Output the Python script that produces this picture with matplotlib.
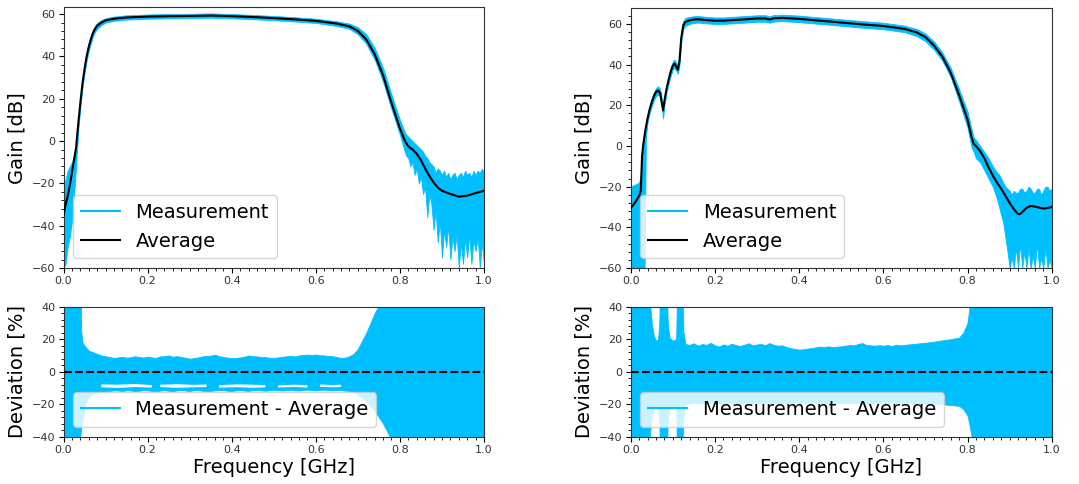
import matplotlib
matplotlib.use("Agg")
import matplotlib.pyplot as plt
from matplotlib.ticker import MultipleLocator

nan = float("nan")

# ---------------- data ----------------
# Left gain panel: average curve
avg_f_L = [0, 0.005, 0.01, 0.015, 0.02, 0.025, 0.03, 0.035, 0.04, 0.045, 0.05, 0.055, 0.06,
           0.065, 0.07, 0.075, 0.08, 0.09, 0.1, 0.12, 0.15, 0.2, 0.25, 0.3, 0.35, 0.4, 0.45,
           0.5, 0.55, 0.6, 0.65, 0.68, 0.7, 0.72, 0.74, 0.76, 0.78, 0.8, 0.81, 0.815, 0.82,
           0.83, 0.84, 0.85, 0.86, 0.87, 0.88, 0.89, 0.9, 0.92, 0.94, 0.96, 0.98, 1.0]
avg_L = [-35, -30, -26, -21, -15, -9, -3, 8, 18, 27, 34, 40, 44.5,
         48, 51, 53, 54.5, 56, 57, 57.8, 58.4, 58.8, 59, 59.1, 59.3, 59, 58.6,
         58.1, 57.5, 56.8, 55.5, 54.2, 52, 48, 41, 31, 18, 6, 1, -1, -2.5,
         -4, -6, -9, -13, -16.5, -19.5, -22, -23.5, -25, -26.3, -25.8, -24.6, -23.5]

# Left gain panel: envelope of all measurements
meas_f_L = [0, 0.005, 0.01, 0.015, 0.02, 0.025, 0.03, 0.035, 0.04, 0.045, 0.05, 0.055, 0.06,
            0.065, 0.07, 0.075, 0.08, 0.09, 0.1, 0.12, 0.15, 0.2, 0.25, 0.3, 0.35, 0.4, 0.45,
            0.5, 0.55, 0.6, 0.65, 0.68, 0.7, 0.72, 0.74, 0.76, 0.78, 0.8, 0.81, 0.815, 0.82,
            0.825, 0.83, 0.835, 0.84, 0.845, 0.85, 0.855, 0.86, 0.865, 0.87, 0.875, 0.88,
            0.885, 0.89, 0.895, 0.9, 0.905, 0.91, 0.915, 0.92, 0.925, 0.93, 0.935, 0.94,
            0.945, 0.95, 0.955, 0.96, 0.965, 0.97, 0.975, 0.98, 0.985, 0.99, 0.995, 1.0]
meas_hi_L = [-22, -18, -14, -12, -10, -7, -2, 10, 20, 29, 36, 42, 46.5,
             50, 52.5, 54.5, 55.8, 57.2, 58, 58.8, 59.4, 59.8, 60, 60.1, 60.3, 60, 59.6,
             59.1, 58.5, 57.8, 56.6, 55.5, 53.8, 50.5, 44, 34.5, 22, 10, 5, 3, 2,
             1, 0, -1, -2, -3, -4, -5, -7, -8, -10, -11, -12,
             -15, -13, -14, -16, -14, -17, -15, -18, -16, -15, -18, -16,
             -15, -17, -14, -16, -15, -17, -14, -16, -14, -15, -13, -15]
meas_lo_L = [-60, -58, -50, -45, -38, -25, -12, 5, 16, 25, 32, 38, 42.5,
             46, 49.5, 51.5, 53, 54.8, 56, 56.8, 57.4, 57.8, 58, 58.1, 58.3, 58, 57.6,
             57.1, 56.5, 55.8, 54.4, 53, 50.5, 46, 38.5, 28, 15, 3, -4, -7, -8,
             -12, -10, -16, -13, -20, -17, -25, -22, -36, -25, -30, -42,
             -33, -48, -38, -55, -42, -50, -40, -56, -45, -52, -44, -60,
             -48, -58, -46, -55, -44, -58, -47, -52, -45, -60, -48, -58]

# Right gain panel: average curve
avg_f_R = [0, 0.01, 0.02, 0.024, 0.027, 0.03, 0.035, 0.04, 0.045, 0.05, 0.055, 0.06, 0.065,
           0.07, 0.074, 0.077, 0.08, 0.085, 0.09, 0.095, 0.1, 0.104, 0.108, 0.112, 0.116,
           0.12, 0.125, 0.13, 0.14, 0.15, 0.16, 0.18, 0.2, 0.22, 0.25, 0.28, 0.3, 0.32,
           0.33, 0.34, 0.36, 0.4, 0.45, 0.5, 0.55, 0.6, 0.65, 0.68, 0.7, 0.72, 0.74, 0.76,
           0.78, 0.8, 0.81, 0.815, 0.82, 0.83, 0.84, 0.85, 0.86, 0.87, 0.88, 0.89, 0.9,
           0.91, 0.92, 0.925, 0.93, 0.94, 0.95, 0.96, 0.97, 0.98, 0.99, 1.0]
avg_R = [-30.5, -28, -24.5, -22, -5, 1, 8, 13.5, 18, 21.5, 24.5, 26.5, 27.3,
         26, 21, 17.5, 22, 28, 32.5, 36.5, 39.5, 40.5, 39, 37.5, 42,
         53, 59.5, 61, 61.8, 62.2, 62.3, 61.9, 61.6, 61.6, 62, 62.4, 62.7, 62.7,
         62.2, 62.8, 63, 62.5, 61.6, 60.7, 59.8, 59, 57.6, 55.8, 53.5, 49.5, 44, 36,
         25, 13, 4, 1, 0, -2.5, -6, -10.5, -14.5, -18, -21, -24.5, -28,
         -31, -33.5, -33.5, -32.5, -30.5, -29.5, -29.8, -30.3, -30.8, -30.5, -30]

# Right gain panel: envelope of all measurements
meas_f_R = [0, 0.01, 0.02, 0.024, 0.027, 0.03, 0.033, 0.036, 0.04, 0.045, 0.05, 0.055,
            0.06, 0.065, 0.07, 0.074, 0.077, 0.08, 0.085, 0.09, 0.095, 0.1, 0.104, 0.108,
            0.112, 0.116, 0.12, 0.125, 0.13, 0.14, 0.15, 0.16, 0.18, 0.2, 0.22, 0.25, 0.28,
            0.3, 0.32, 0.33, 0.34, 0.36, 0.4, 0.45, 0.5, 0.55, 0.6, 0.65, 0.68, 0.7, 0.72,
            0.74, 0.76, 0.78, 0.8, 0.81, 0.815, 0.82, 0.83, 0.84, 0.85, 0.86, 0.87, 0.875,
            0.88, 0.885, 0.89, 0.895, 0.9, 0.905, 0.91, 0.915, 0.92, 0.925, 0.93, 0.935,
            0.94, 0.945, 0.95, 0.955, 0.96, 0.965, 0.97, 0.975, 0.98, 0.985, 0.99, 0.995, 1.0]
meas_hi_R = [-20, -19, -18, -14, 0, 3, 7, 10, 15.5, 20, 23.5, 26.5,
             28.5, 29.3, 28, 23, 20, 24, 30, 34.5, 38.5, 41.5, 42.5, 41,
             39.5, 44, 55, 61.5, 63, 63.5, 63.8, 63.9, 63.5, 63.2, 63.2, 63.6, 64,
             64.3, 64.3, 63.8, 64.4, 64.6, 64.1, 63.2, 62.3, 61.4, 60.6, 59.2, 57.5, 55.3, 51.5,
             46, 38.5, 28, 17, 8, 4, 3, 0, -3, -6, -10, -13, -14,
             -16, -18, -20, -21, -22, -24, -22, -23, -23, -21, -21, -23,
             -22, -20, -21, -23, -23, -21, -21, -24, -22, -20, -20, -22, -21]
meas_lo_R = [-60, -60, -60, -60, -60, -60, -60, 4, 11.5, 16, 19.5, 22.5,
             24.5, 25.3, 24, 19, 13.5, 20, 26, 30.5, 34.5, 37.5, 38.5, 37,
             35.5, 40, 51, 57.5, 59, 60, 60.5, 60.7, 60.3, 60, 60, 60.4, 60.8,
             61.1, 61.1, 60.6, 61.2, 61.4, 60.9, 60, 59.1, 58.2, 57.4, 56, 54, 51.5, 47.5,
             42, 34, 22, 9, -1, -3, -6, -8, -12, -16, -20, -26, -30,
             -34, -38, -45, -52, -60, -55, -60, -50, -60, -48, -60, -52,
             -60, -50, -60, -54, -60, -48, -60, -55, -60, -50, -60, -56, -60]

# Left deviation panel: envelope of (measurement - average)
dev_f_L = [0, 0.035, 0.04, 0.042, 0.045, 0.05, 0.055, 0.06, 0.07, 0.08, 0.09, 0.1, 0.11,
           0.12, 0.13, 0.14, 0.15, 0.16, 0.17, 0.18, 0.19, 0.2, 0.21, 0.22, 0.23, 0.24,
           0.25, 0.26, 0.27, 0.28, 0.29, 0.3, 0.31, 0.32, 0.33, 0.34, 0.35, 0.36, 0.37,
           0.38, 0.39, 0.4, 0.41, 0.42, 0.43, 0.44, 0.45, 0.46, 0.47, 0.48, 0.49, 0.5,
           0.51, 0.52, 0.53, 0.54, 0.55, 0.56, 0.57, 0.58, 0.59, 0.6, 0.61, 0.62, 0.63,
           0.64, 0.65, 0.66, 0.67, 0.68, 0.69, 0.7, 0.71, 0.72, 0.73, 0.74, 0.75, 0.76,
           0.77, 0.78, 0.79, 1.0]
dev_hi_L = [60, 60, 60, 25, 18, 16, 14.5, 13, 12, 11, 10, 9.5, 9,
            8.5, 8.8, 9.2, 8.6, 8.9, 9.5, 9.1, 8.7, 9.3, 8.8, 8.5, 9.4, 9.6,
            10, 9.2, 9.6, 9, 8.6, 8, 8.3, 8.8, 9.4, 9.7, 9.9, 10.5, 9.6,
            9, 8.7, 8.5, 8.4, 8.8, 9.2, 10, 9.6, 9.4, 9.1, 9, 8.6, 8.5,
            8.8, 9.1, 9.5, 9.7, 9.4, 10, 10.3, 10.5, 10.2, 10.6, 10.1, 10, 9.7,
            9.5, 9, 8.5, 8.7, 9.5, 11, 14, 19, 24, 30, 36, 41, 50,
            60, 60, 60, 60]
dev_lo_L = [-60, -60, -40, -34, -30, -22, -18, -15.5, -13.5, -12.5, -12.2, -12, -11.8,
            -11.5, -11.6, -11.9, -11.4, -11.6, -12, -11.7, -11.3, -11.5, -11.8, -12.1, -11.6, -11.4,
            -11.7, -12, -11.5, -11.2, -11.6, -11.9, -11.4, -11.3, -11.7, -12, -11.8, -11.5, -11.2,
            -11.4, -11.7, -11.9, -11.5, -11.3, -11.6, -11.8, -11.4, -11.2, -11.5, -11.7, -11.3, -11.1,
            -11.4, -11.6, -11.3, -11.1, -11.4, -11.6, -11.2, -11, -11.3, -11.5, -11.2, -11, -11.3,
            -11.5, -11.2, -11.4, -11.6, -11.8, -12.5, -14, -16, -18, -21, -24, -28, -32,
            -37, -42, -60, -60]

# Left deviation panel: empty gaps between groups of traces (white streaks)
gap_f_L = [0.09, 0.13, 0.17, 0.21, nan, 0.23, 0.27, 0.31, 0.34, nan, 0.37, 0.41, 0.45,
           0.48, nan, 0.51, 0.55, 0.58, nan, 0.61, 0.64, 0.66]
gap_hi_L = [-7.8, -8.0, -7.6, -8.2, nan, -8.0, -7.7, -8.1, -7.9, nan, -8.3, -7.8, -8.0,
            -8.2, nan, -8.4, -8.0, -8.3, nan, -7.9, -8.2, -8.0]
gap_lo_L = [-9.6, -10.0, -9.4, -9.8, nan, -9.5, -9.9, -9.6, -9.4, nan, -9.8, -9.5, -9.9,
            -9.6, nan, -9.7, -9.4, -9.8, nan, -9.3, -9.6, -9.4]

# Right deviation panel: envelope of (measurement - average)
dev_f_R = [0, 0.042, 0.045, 0.05, 0.055, 0.06, 0.065, 0.068, 0.07, 0.085, 0.088, 0.092,
           0.1, 0.108, 0.111, 0.122, 0.125, 0.13, 0.14, 0.15, 0.16, 0.17, 0.18, 0.19, 0.2,
           0.21, 0.22, 0.23, 0.24, 0.25, 0.26, 0.27, 0.28, 0.29, 0.3, 0.31, 0.32, 0.33,
           0.34, 0.35, 0.36, 0.37, 0.38, 0.39, 0.4, 0.41, 0.42, 0.43, 0.44, 0.45, 0.46,
           0.47, 0.48, 0.49, 0.5, 0.51, 0.52, 0.53, 0.54, 0.55, 0.56, 0.57, 0.58, 0.59,
           0.6, 0.61, 0.62, 0.63, 0.64, 0.65, 0.66, 0.67, 0.68, 0.69, 0.7, 0.72, 0.74,
           0.76, 0.78, 0.79, 0.8, 0.805, 0.81, 0.815, 1.0]
dev_hi_R = [60, 60, 45, 30, 22, 19, 20, 30, 60, 60, 30, 21,
            19, 20, 60, 60, 25, 17, 16.5, 17.5, 16, 17, 16.5, 17.8, 16.2,
            15.5, 16.8, 16, 17.2, 16.4, 15.8, 16.6, 17.5, 16.2, 16.8, 17, 16.4, 17.6,
            16.5, 16, 16.2, 15.2, 14.5, 14, 13.6, 13.8, 14.2, 14.6, 15, 15.4, 15.2,
            15.6, 15.1, 15.4, 15.6, 16, 16.4, 16.2, 17, 17.6, 16.4, 16.2, 16, 16.3,
            16, 16.4, 15.8, 16.6, 16.2, 16.5, 16.8, 17, 17.3, 17.6, 17.8, 18.5, 19.3,
            20, 21, 24, 30, 40, 60, 60, 60]
dev_lo_R = [-60, -60, -40, -28, -22, -21, -22, -30, -60, -60, -30, -22,
            -21, -22, -60, -60, -28, -20, -19.5, -19.2, -19.6, -19.3, -19, -19.4, -19.6,
            -19.2, -19, -19.3, -19.5, -19.1, -19.3, -19.6, -19.2, -19, -19.3, -19.5, -19.2, -19.4,
            -19.1, -19.3, -19.5, -19.2, -19, -19.3, -19.1, -19.4, -19.2, -19, -19.3, -19.5, -19.1,
            -19.3, -19.2, -19, -19.4, -19.2, -19.1, -19.3, -19, -19.2, -19.4, -19.1, -19.3, -19,
            -19.2, -19.4, -19.1, -19.3, -19.2, -19, -19.3, -19.5, -19.2, -19.4, -19.5, -19.8, -20,
            -20.5, -21, -23, -27, -33, -40, -60, -60]

x_ticks = [0.0, 0.2, 0.4, 0.6, 0.8, 1.0]
gain_ticks = [-60, -40, -20, 0, 20, 40, 60]
dev_ticks = [-40, -20, 0, 20, 40]

# ---------------- styling ----------------
BLUE = "#00BFFF"
TICK_FS = 8
LABEL_FS = 14
LEG_FS = 14

fig = plt.figure(figsize=(10.79, 4.84), dpi=100)
fig.patch.set_facecolor("white")

W, H = 1079.0, 484.0
def rect(x0, y0, x1, y1):
    return [x0 / W, 1 - y1 / H, (x1 - x0) / W, (y1 - y0) / H]

ax_gL = fig.add_axes(rect(63.5, 7.3, 484, 268))
ax_dL = fig.add_axes(rect(63.5, 306.7, 484, 436.7))
ax_gR = fig.add_axes(rect(630.7, 8.3, 1051.7, 268))
ax_dR = fig.add_axes(rect(630.7, 306.7, 1051.7, 436.7))

def style(ax, yticks, ylim, yminor):
    ax.set_xlim(0, 1)
    ax.set_ylim(*ylim)
    ax.set_xticks(x_ticks)
    ax.set_yticks(yticks)
    ax.xaxis.set_minor_locator(MultipleLocator(0.02))
    ax.yaxis.set_minor_locator(MultipleLocator(yminor))
    ax.tick_params(which="major", labelsize=TICK_FS, length=3.5, width=0.8, pad=2.5,
                   labelcolor="#333333")
    ax.tick_params(which="minor", length=2, width=0.6)
    for s in ax.spines.values():
        s.set_linewidth(0.8)
        s.set_color("#333333")

def gain_panel(ax, mf, lo, hi, af, avg, ylim):
    ax.fill_between(mf, lo, hi, color=BLUE, linewidth=0.6, edgecolor=BLUE, zorder=1)
    ax.plot([], [], color=BLUE, lw=1.5, label="Measurement")
    ax.plot(af, avg, color="black", lw=1.5, label="Average", zorder=3)
    style(ax, gain_ticks, ylim, 4)
    ax.set_ylabel("Gain [dB]", fontsize=LABEL_FS, labelpad=4)
    ax.legend(loc="lower left", fontsize=LEG_FS, framealpha=0.8, handlelength=2.0)

def dev_panel(ax, df, lo, hi):
    ax.fill_between(df, lo, hi, color=BLUE, linewidth=0.6, edgecolor=BLUE, zorder=1)
    ax.plot([], [], color=BLUE, lw=1.5, label="Measurement - Average")
    ax.axhline(0, color="black", lw=1.5, ls="--", zorder=3)
    style(ax, dev_ticks, (-40, 40), 4)
    ax.set_ylabel("Deviation [%]", fontsize=LABEL_FS, labelpad=4)
    ax.set_xlabel("Frequency [GHz]", fontsize=LABEL_FS, labelpad=2)
    ax.legend(loc="lower left", fontsize=LEG_FS, framealpha=0.8, handlelength=2.0)

gain_panel(ax_gL, meas_f_L, meas_lo_L, meas_hi_L, avg_f_L, avg_L, (-60, 63.2))
gain_panel(ax_gR, meas_f_R, meas_lo_R, meas_hi_R, avg_f_R, avg_R, (-60, 67.7))
dev_panel(ax_dL, dev_f_L, dev_lo_L, dev_hi_L)
ax_dL.fill_between(gap_f_L, gap_lo_L, gap_hi_L, color="white", linewidth=0, zorder=2)
dev_panel(ax_dR, dev_f_R, dev_lo_R, dev_hi_R)

fig.savefig("out.png", dpi=100, facecolor="white")
